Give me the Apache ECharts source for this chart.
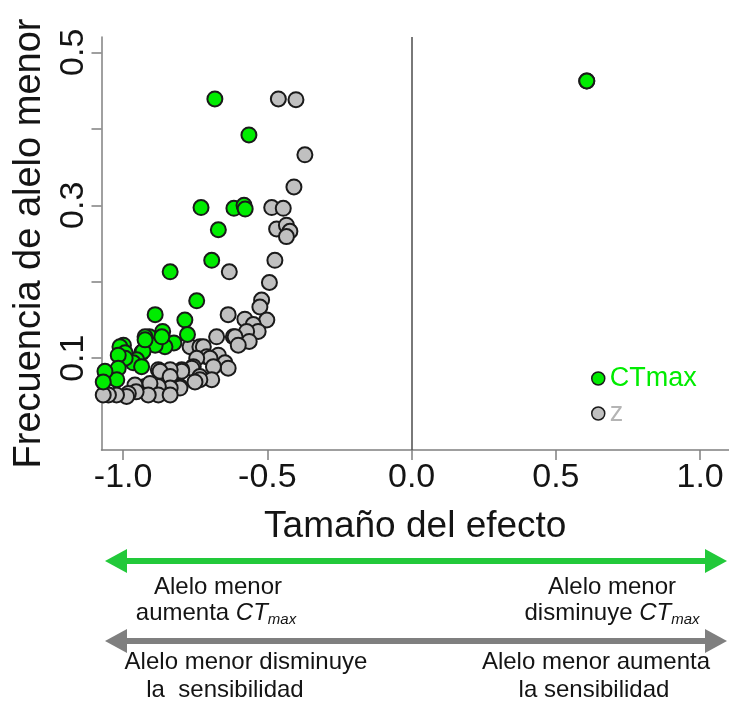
<!DOCTYPE html>
<html>
<head>
<meta charset="utf-8">
<script src="https://cdn.jsdelivr.net/npm/echarts@6/dist/echarts.min.js"></script>
<style>
  html, body { margin: 0; padding: 0; background: #fff; }
  #chart { width: 729px; height: 702px; }
</style>
</head>
<body>
<div id="chart"></div>
<script>
// Effect size vs. minor allele frequency for two traits
const seriesNames = ['CTmax', 'z'];

// [effect size, minor allele frequency]
const zPoints = [
  [-0.462, 0.439], [-0.401, 0.438], [-0.370, 0.366], [-0.408, 0.324],
  [-0.485, 0.297], [-0.445, 0.296], [-0.468, 0.269], [-0.434, 0.274],
  [-0.422, 0.266], [-0.434, 0.259], [-0.474, 0.228], [-0.632, 0.213],
  [-0.493, 0.199], [-0.520, 0.176], [-0.526, 0.167], [-0.636, 0.157],
  [-0.502, 0.150], [-0.578, 0.151], [-0.549, 0.144], [-0.532, 0.135],
  [-0.572, 0.135], [-0.618, 0.128], [-0.612, 0.128], [-0.563, 0.122],
  [-0.601, 0.117], [-0.676, 0.128], [-0.768, 0.115], [-0.734, 0.115],
  [-0.722, 0.115], [-0.710, 0.102], [-0.670, 0.104], [-0.699, 0.100],
  [-0.745, 0.100], [-0.647, 0.094], [-0.636, 0.087], [-0.687, 0.089],
  [-0.757, 0.089], [-0.762, 0.087], [-0.734, 0.076], [-0.693, 0.072],
  [-0.734, 0.072], [-0.751, 0.069], [-0.797, 0.085], [-0.797, 0.083],
  [-0.837, 0.085], [-0.878, 0.085], [-0.872, 0.083], [-0.837, 0.076],
  [-0.803, 0.063], [-0.803, 0.061], [-0.837, 0.061], [-0.878, 0.063],
  [-0.924, 0.063], [-0.959, 0.065], [-0.907, 0.067], [-0.878, 0.052],
  [-0.837, 0.052], [-0.913, 0.052], [-0.955, 0.056], [-0.982, 0.054],
  [-0.988, 0.050], [-1.023, 0.052], [-1.051, 0.052], [-1.069, 0.052],
  [0.607, 0.4625]
];

const ctmaxPoints = [
  [-0.682, 0.439], [-0.564, 0.392], [-0.730, 0.297], [-0.616, 0.296],
  [-0.581, 0.300], [-0.577, 0.295], [-0.670, 0.268], [-0.693, 0.228],
  [-0.837, 0.213], [-0.745, 0.175], [-0.889, 0.157], [-0.786, 0.150],
  [-0.777, 0.131], [-0.824, 0.120], [-0.863, 0.135], [-0.872, 0.124],
  [-0.909, 0.128], [-0.924, 0.128], [-0.855, 0.115], [-0.889, 0.117],
  [-0.936, 0.107], [-0.931, 0.109], [-0.953, 0.098], [-0.965, 0.094],
  [-0.936, 0.089], [-0.999, 0.117], [-1.011, 0.115], [-0.993, 0.107],
  [-0.993, 0.100], [-1.017, 0.104], [-1.017, 0.087], [-1.022, 0.072],
  [-1.063, 0.083], [-1.069, 0.069], [-0.924, 0.124], [-0.866, 0.128],
  [0.607, 0.4625]
];

const xTicks = [-1.0, -0.5, 0.0, 0.5, 1.0];
const yTicks = [0.1, 0.2, 0.3, 0.4, 0.5];
const yLabelTicks = [0.1, 0.3, 0.5];

const FONT = "'Liberation Sans', Arial, sans-serif";
const GREEN = '#00ec00';
const GREY = '#c0c0c0';
const ARROW_GREEN = '#22c93a';
const ARROW_GREY = '#7f7f7f';
const AXIS = '#808080';

function doubleArrow(y, x0, x1, color) {
  const head = 22, half = 12, shaft = 3;
  return {
    type: 'group',
    silent: true,
    children: [
      { type: 'rect', shape: { x: x0 + head - 2, y: y - shaft, width: x1 - x0 - 2 * head + 4, height: shaft * 2 }, style: { fill: color } },
      { type: 'polygon', shape: { points: [[x0, y], [x0 + head, y - half], [x0 + head, y + half]] }, style: { fill: color } },
      { type: 'polygon', shape: { points: [[x1, y], [x1 - head, y - half], [x1 - head, y + half]] }, style: { fill: color } }
    ]
  };
}

function note(x, y, text) {
  return {
    type: 'text', x: x, y: y, silent: true,
    style: {
      text: text, align: 'center', verticalAlign: 'middle',
      fontSize: 24, fontFamily: FONT, fill: '#141414',
      rich: {
        n: { fontSize: 24, fontFamily: FONT, fill: '#141414', lineHeight: 28 },
        i: { fontSize: 24, fontFamily: FONT, fontStyle: 'italic', fill: '#141414', lineHeight: 28 },
        s: { fontSize: 15, fontFamily: FONT, fontStyle: 'italic', fill: '#141414', lineHeight: 14, verticalAlign: 'bottom' }
      }
    }
  };
}

const chart = echarts.init(document.getElementById('chart'), null, { renderer: 'canvas' });

chart.setOption({
  animation: false,
  backgroundColor: '#ffffff',
  grid: { left: 101.5, right: 0, top: 37, bottom: 252 },
  xAxis: {
    type: 'value', min: -1.075, max: 1.1,
    name: 'Tamaño del efecto', nameLocation: 'middle', nameGap: 58,
    nameTextStyle: { fontSize: 37, fontFamily: FONT, color: '#141414' },
    axisLine: { show: true, onZero: false, lineStyle: { color: AXIS, width: 1.5 } },
    axisTick: { show: true, length: 10, customValues: xTicks, lineStyle: { color: AXIS, width: 1.5 } },
    axisLabel: {
      customValues: xTicks, margin: 11, fontSize: 34, fontFamily: FONT, color: '#141414',
      formatter: v => v.toFixed(1)
    },
    splitLine: { show: false }
  },
  yAxis: {
    type: 'value', min: -0.02, max: 0.52,
    name: 'Frecuencia de alelo menor', nameLocation: 'middle', nameGap: 52,
    nameTextStyle: { fontSize: 38, fontFamily: FONT, color: '#141414' },
    axisLine: { show: true, onZero: false, lineStyle: { color: AXIS, width: 1.5 } },
    axisTick: { show: true, length: 10, customValues: yTicks, lineStyle: { color: AXIS, width: 1.5 } },
    axisLabel: {
      customValues: yLabelTicks, rotate: 90, margin: 11, fontSize: 34, fontFamily: FONT, color: '#141414',
      formatter: v => v.toFixed(1)
    },
    splitLine: { show: false }
  },
  legend: {
    orient: 'vertical', left: 586, top: 360,
    itemWidth: 13, itemHeight: 13, itemGap: 8,
    textStyle: { fontSize: 27, fontFamily: FONT, lineHeight: 26 },
    data: [
      { name: seriesNames[0], icon: 'circle', itemStyle: { borderWidth: 1.5 }, textStyle: { color: GREEN } },
      { name: seriesNames[1], icon: 'circle', itemStyle: { borderWidth: 1.5 }, textStyle: { color: '#b4b4b4' } }
    ]
  },
  series: [
    {
      name: seriesNames[1], type: 'scatter', data: zPoints,
      symbol: 'circle', symbolSize: 15,
      itemStyle: { color: GREY, borderColor: '#1a1a1a', borderWidth: 2, opacity: 1 },
      markLine: {
        silent: true, symbol: 'none', label: { show: false },
        lineStyle: { color: '#4d4d4d', width: 1.5, type: 'solid' },
        data: [{ xAxis: 0 }]
      },
      z: 2
    },
    {
      name: seriesNames[0], type: 'scatter', data: ctmaxPoints,
      symbol: 'circle', symbolSize: 15,
      itemStyle: { color: GREEN, borderColor: '#1a1a1a', borderWidth: 2, opacity: 1 },
      z: 3
    }
  ],
  graphic: [
    doubleArrow(561, 105, 727, ARROW_GREEN),
    note(218, 587, '{n|Alelo menor}'),
    note(216, 613, '{n|aumenta }{i|CT}{s|max}'),
    note(612, 587, '{n|Alelo menor}'),
    note(612, 613, '{n|disminuye }{i|CT}{s|max}'),
    doubleArrow(641, 105, 727, ARROW_GREY),
    note(246, 662, '{n|Alelo menor disminuye}'),
    note(225, 690, '{n|la  sensibilidad}'),
    note(596, 662, '{n|Alelo menor aumenta}'),
    note(594, 690, '{n|la sensibilidad}')
  ]
});
</script>
</body>
</html>
